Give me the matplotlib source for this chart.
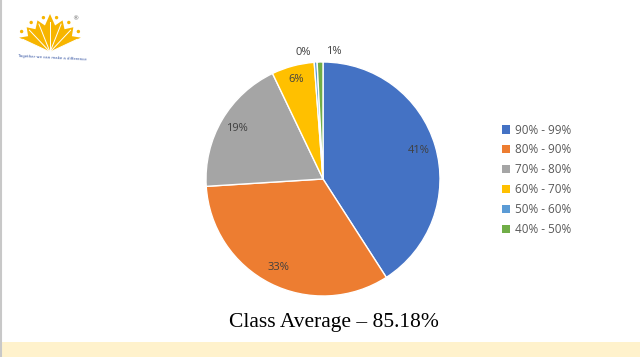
import numpy as np
import matplotlib
matplotlib.use("Agg")
import matplotlib.pyplot as plt
from matplotlib.patches import Polygon, Rectangle, Circle, Patch

# data
bands = ["90% - 99%", "80% - 90%", "70% - 80%", "60% - 70%", "50% - 60%", "40% - 50%"]
shares = [40.9, 33.1, 18.9, 5.9, 0.4, 0.8]
pct_labels = ["41%", "33%", "19%", "6%", "0%", "1%"]
colors = ["#4472C4", "#ED7D31", "#A5A5A5", "#FFC000", "#5B9BD5", "#70AD47"]
title = "Class Average \u2013 85.18%"

W, H = 640, 357
fig = plt.figure(figsize=(W / 100, H / 100), dpi=100)
fig.patch.set_facecolor("white")

# background layer in pixel coordinates (band, border, logo)
bg = fig.add_axes([0, 0, 1, 1])
bg.set_xlim(0, W)
bg.set_ylim(H, 0)
bg.axis("off")
bg.add_patch(Rectangle((0, 342), W, 20, color="#FFF2CC", lw=0))
bg.plot([1, 1], [0, H], color="#C8C8C8", lw=1.5)

# rough logo: a yellow lotus fan with dots
cx, cy = 50, 52
tips = np.linspace(155, 25, 7)
step = tips[0] - tips[1]
pts = [(cx, cy)]
for j, a in enumerate(tips):
    r = 38 if j == 3 else 34
    pts.append((cx + r * np.cos(np.radians(a)), cy - r * np.sin(np.radians(a))))
    if j < len(tips) - 1:
        b = a - step / 2
        pts.append((cx + 27 * np.cos(np.radians(b)), cy - 27 * np.sin(np.radians(b))))
bg.add_patch(Polygon(pts, closed=True, color="#F7B500", lw=0))
for a in tips:
    bg.plot([cx, cx + 30 * np.cos(np.radians(a))], [cy, cy - 30 * np.sin(np.radians(a))],
            color="white", lw=0.7)
for a in tips[:-1] - step / 2:
    bg.add_patch(Circle((cx + 35 * np.cos(np.radians(a)), cy - 35 * np.sin(np.radians(a))),
                        1.7, color="#F7B500", lw=0))
bg.text(75, 19, "\u00ae", fontsize=4.5, color="#666666", ha="center", va="center")
bg.text(52, 58, "Together we can make a difference", fontsize=2.8, color="#3050A0",
        ha="center", va="center", rotation=-3)

# pie
R = 117
pcx, pcy = 323, 179
ax = fig.add_axes([(pcx - R) / W, (H - pcy - R) / H, 2 * R / W, 2 * R / H])
wedges, _ = ax.pie(shares, colors=colors, startangle=90, counterclock=False, radius=1,
                   wedgeprops=dict(edgecolor="white", linewidth=1))
ax.set_xlim(-1, 1)
ax.set_ylim(-1, 1)
ax.set_aspect("auto")
ax.axis("off")

lab_font = dict(fontsize=8, color="#404040", family="Open Sans", ha="center", va="center")
for i, w in enumerate(wedges):
    mid = np.radians((w.theta1 + w.theta2) / 2)
    if shares[i] >= 2:
        d = 0.85 if shares[i] > 10 else 0.88
        ax.text(d * np.cos(mid), d * np.sin(mid), pct_labels[i], **lab_font)
    else:
        x0, y0 = np.cos(mid), np.sin(mid)
        if i == 4:
            ax.plot([x0, -0.05, -0.07], [y0, 1.07, 1.07], color="#A6A6A6", lw=0.6)
            ax.text(-0.17, 1.08, pct_labels[i], **lab_font)
        else:
            ax.plot([x0, 0.0, 0.02], [y0, 1.07, 1.07], color="#A6A6A6", lw=0.6)
            ax.text(0.09, 1.09, pct_labels[i], **lab_font)

handles = [Patch(facecolor=c, edgecolor="none") for c in colors]
leg = fig.legend(handles, bands, loc="upper left", bbox_to_anchor=(491 / W, 1 - 113 / H),
                 frameon=False, handlelength=0.7, handleheight=0.7, handletextpad=0.4,
                 labelspacing=0.58, prop=dict(family="Open Sans", size=8.5))
for t in leg.get_texts():
    t.set_color("#595959")

fig.text(334 / W, 1 - 322 / H, title, fontsize=15.5, family="Liberation Serif",
         color="black", ha="center", va="center")

fig.savefig("out.png", dpi=100)
